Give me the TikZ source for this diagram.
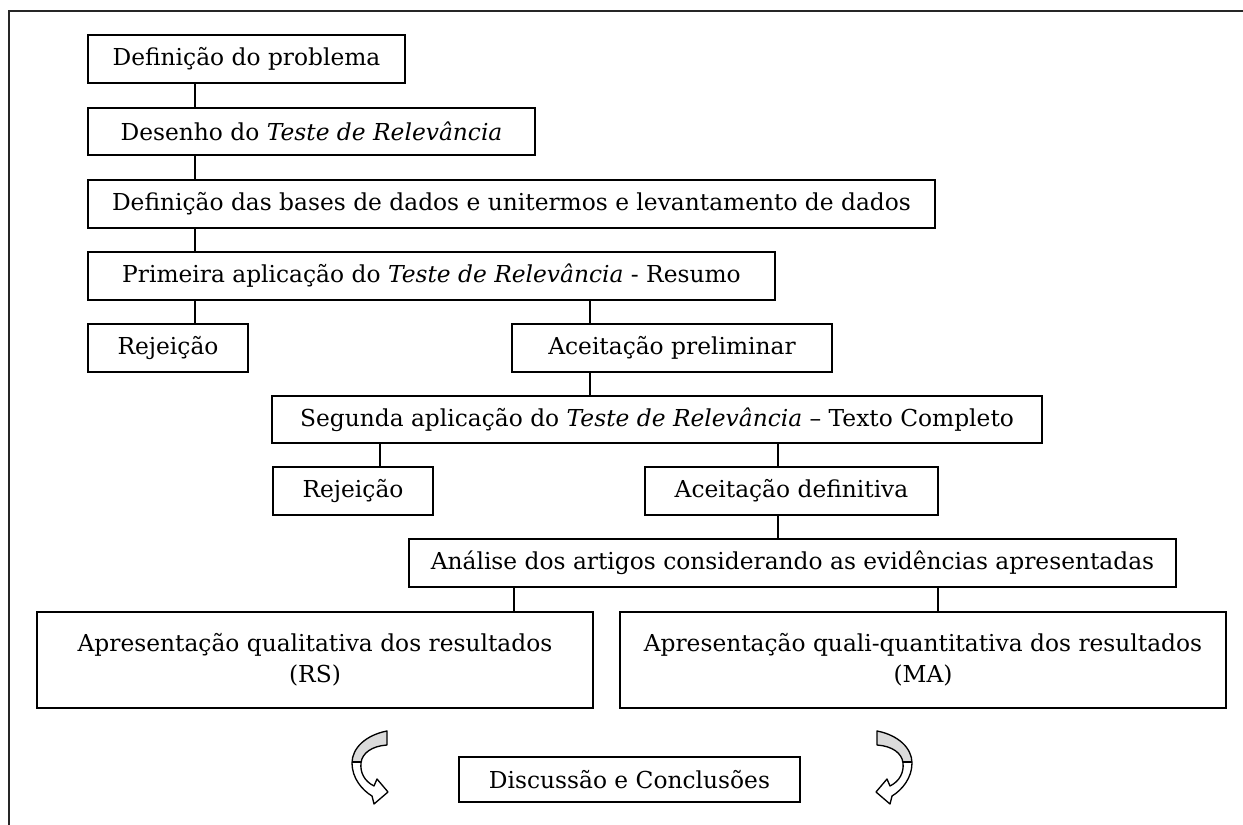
\documentclass[tikz,border=0pt]{standalone}
\usepackage{fontspec}
\setmainfont{DejaVu Serif}
\newcommand\bx[6]{\node[box, minimum width={(#4-#2)*0.75pt}, minimum height={(#5-#3)*0.75pt}] (#1) at ({(#2+#4)/2},{(#3+#5)/2}) {#6};}
\newcommand\curvedarrowpath{(387,731) .. controls (366,735) and (352,748) .. (352,763)
 .. controls (352,778) and (362,790) .. (372,796)
 -- (374,804) -- (388,792) -- (377,779) -- (374,786)
 .. controls (364,781) and (360,772) .. (361,763)
 .. controls (362,753) and (372,746) .. (387,745) -- cycle}
\newcommand\drawcurvedarrow{%
 \fill[white] \curvedarrowpath;
 \begin{scope}
 \clip (330,700) rectangle (400,762);
 \fill[gray!28] \curvedarrowpath;
 \end{scope}
 \draw[line width=1pt, line join=round] \curvedarrowpath;
 \draw[line width=0.8pt] (352,762) -- (361,762);}
\begin{document}
\begin{tikzpicture}[x=0.75pt,y=-0.75pt,
  box/.style={draw, line width=1pt, inner sep=0pt, align=center, font=\fontsize{17.5}{23.5}\selectfont},
  conn/.style={line width=1pt},
  thickbox/.style={box, line width=1.5pt}]
\useasboundingbox (0,0) rectangle (1243,825);
\draw[line width=1.6pt, black!85] (9,825) -- (9,11) -- (1243,11);

\bx{b1}{88}{35}{405}{83}{Definição do problema}
\bx{b2}{88}{108}{535}{155}{Desenho do \textit{Teste de Relevância}}
\bx{b3}{88}{180}{935}{228}{Definição das bases de dados e unitermos e levantamento de dados}
\bx{b4}{88}{252}{775}{300}{Primeira aplicação do \textit{Teste de Relevância} - Resumo}
\bx{r1}{88}{324}{248}{372}{Rejeição}
\bx{a1}{512}{324}{832}{372}{Aceitação preliminar}
\bx{s2}{272}{396}{1042}{443}{Segunda aplicação do \textit{Teste de Relevância} – Texto Completo}
\bx{r2}{273}{467}{433}{515}{Rejeição}
\bx{a2}{645}{467}{938}{515}{Aceitação definitiva}
\bx{an}{409}{539}{1176}{587}{Análise dos artigos considerando as evidências apresentadas}
\node[thickbox, minimum width={556*0.75pt}, minimum height={96*0.75pt}] (q1) at (315,660) {Apresentação qualitativa dos resultados\\(RS)};
\node[thickbox, minimum width={606*0.75pt}, minimum height={96*0.75pt}] (q2) at (923,660) {Apresentação quali-quantitativa dos resultados\\(MA)};
\bx{d}{459}{757}{800}{802}{Discussão e Conclusões}

\coordinate (cA) at (195,0);
\coordinate (cB) at (590,0);
\coordinate (cC) at (380,0);
\coordinate (cD) at (778,0);
\coordinate (cE) at (514,0);
\coordinate (cF) at (938,0);

\draw[conn] (b1.south -| cA) -- (b2.north -| cA);
\draw[conn] (b2.south -| cA) -- (b3.north -| cA);
\draw[conn] (b3.south -| cA) -- (b4.north -| cA);
\draw[conn] (b4.south -| cA) -- (r1.north -| cA);
\draw[conn] (b4.south -| cB) -- (a1.north -| cB);
\draw[conn] (a1.south -| cB) -- (s2.north -| cB);
\draw[conn] (s2.south -| cC) -- (r2.north -| cC);
\draw[conn] (s2.south -| cD) -- (a2.north -| cD);
\draw[conn] (a2.south -| cD) -- (an.north -| cD);
\draw[conn] (an.south -| cE) -- (q1.north -| cE);
\draw[conn] (an.south -| cF) -- (q2.north -| cF);

\drawcurvedarrow
\begin{scope}[cm={-1,0,0,1,(1264,0)}]
\drawcurvedarrow
\end{scope}
\end{tikzpicture}
\end{document}
